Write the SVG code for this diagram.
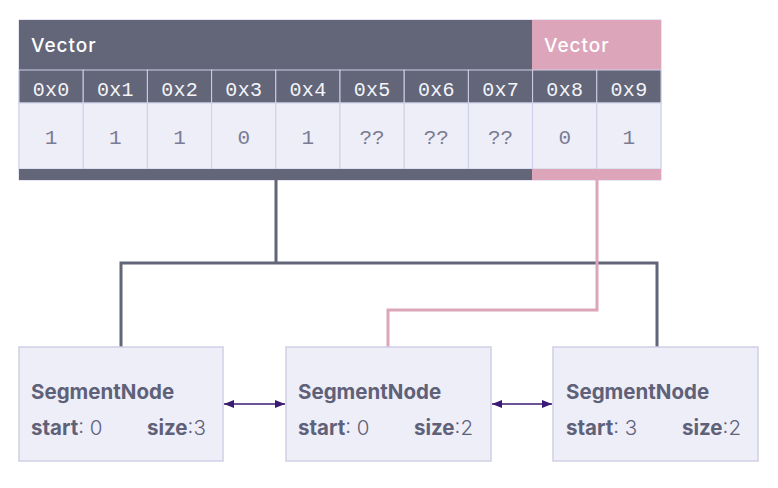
<svg xmlns="http://www.w3.org/2000/svg" width="778" height="488" viewBox="0 0 778 488">
<style>
.hdr{fill:#636679}
.pink{fill:#dca5ba}
.cell{fill:#eeeef8;stroke:#cdd0e6;stroke-width:1}
.idx{fill:#636679;stroke:#cdd0e6;stroke-width:1}
.title{font-family:Inter,"Liberation Sans",sans-serif;font-size:19px;font-weight:500;letter-spacing:1px;fill:#ffffff}
.mono{font-family:"Liberation Mono","DejaVu Sans Mono",monospace;text-anchor:middle}
.it{fill:#f4f4fa;font-size:20px;letter-spacing:0.3px}
.vt{fill:#7a7c94;font-size:21px}
.node{fill:#eeeef8;stroke:#cfd0e6;stroke-width:1.5}
.nt{font-family:Inter,"Liberation Sans",sans-serif;font-size:20.5px;fill:#5f6178}
.b{font-weight:700}
.l{font-weight:300}
.gl{fill:none;stroke:#636679;stroke-width:3}
.pl{fill:none;stroke:#dca5ba;stroke-width:3}
.ar{stroke:#3a1a72;stroke-width:1.5;marker-start:url(#ah);marker-end:url(#ah)}
</style>
<defs>
<marker id="ah" viewBox="0 0 10 10" refX="10" refY="5" markerWidth="10" markerHeight="10" markerUnits="userSpaceOnUse" orient="auto-start-reverse">
<path d="M0,1 L10,5 L0,9 Z" fill="#3a1a72"/>
</marker>
</defs>
<g id="vector">
<rect x="19" y="20" width="642" height="160" fill="#eeeef8" stroke="#cdd0e6"/>
<rect class="hdr" x="19" y="20" width="513" height="50"/>
<rect class="pink" x="532" y="20" width="129" height="50"/>
<text class="title" x="31" y="52">Vector</text>
<text class="title" x="544" y="52">Vector</text>
<g>
<rect class="idx" x="19" y="70" width="64.2" height="33"/>
<rect class="idx" x="83.2" y="70" width="64.2" height="33"/>
<rect class="idx" x="147.4" y="70" width="64.2" height="33"/>
<rect class="idx" x="211.6" y="70" width="64.2" height="33"/>
<rect class="idx" x="275.8" y="70" width="64.2" height="33"/>
<rect class="idx" x="340" y="70" width="64.2" height="33"/>
<rect class="idx" x="404.2" y="70" width="64.2" height="33"/>
<rect class="idx" x="468.4" y="70" width="64.2" height="33"/>
<rect class="idx" x="532.6" y="70" width="64.2" height="33"/>
<rect class="idx" x="596.8" y="70" width="64.2" height="33"/>
<rect class="cell" x="19" y="103" width="64.2" height="66"/>
<rect class="cell" x="83.2" y="103" width="64.2" height="66"/>
<rect class="cell" x="147.4" y="103" width="64.2" height="66"/>
<rect class="cell" x="211.6" y="103" width="64.2" height="66"/>
<rect class="cell" x="275.8" y="103" width="64.2" height="66"/>
<rect class="cell" x="340" y="103" width="64.2" height="66"/>
<rect class="cell" x="404.2" y="103" width="64.2" height="66"/>
<rect class="cell" x="468.4" y="103" width="64.2" height="66"/>
<rect class="cell" x="532.6" y="103" width="64.2" height="66"/>
<rect class="cell" x="596.8" y="103" width="64.2" height="66"/>
</g>
<g class="mono it">
<text x="51.2" y="96">0x0</text>
<text x="115.4" y="96">0x1</text>
<text x="179.6" y="96">0x2</text>
<text x="243.8" y="96">0x3</text>
<text x="308" y="96">0x4</text>
<text x="372.2" y="96">0x5</text>
<text x="436.4" y="96">0x6</text>
<text x="500.6" y="96">0x7</text>
<text x="564.8" y="96">0x8</text>
<text x="629" y="96">0x9</text>
</g>
<g class="mono vt">
<text x="51" y="144">1</text>
<text x="115.3" y="144">1</text>
<text x="179.5" y="144">1</text>
<text x="243.7" y="144">0</text>
<text x="307.9" y="144">1</text>
<text x="372.1" y="144">??</text>
<text x="436.3" y="144">??</text>
<text x="500.5" y="144">??</text>
<text x="564.7" y="144">0</text>
<text x="628.9" y="144">1</text>
</g>
<rect class="hdr" x="19" y="169" width="513" height="11"/>
<rect class="pink" x="532" y="169" width="129" height="11"/>
</g>
<g id="connectors">
<path class="gl" d="M276,180 V263 M121,348 V263 H657 V348"/>
<path class="pl" d="M597,180 V310 H388 V348"/>
<line class="ar" x1="224" y1="404" x2="285" y2="404"/>
<line class="ar" x1="492" y1="404" x2="552" y2="404"/>
</g>
<g id="node1">
<rect class="node" x="19" y="347" width="204" height="114"/>
<text class="nt b" x="31" y="399">SegmentNode</text>
<text class="nt" x="31" y="435"><tspan class="b">start</tspan><tspan class="l">: 0</tspan></text>
<text class="nt" x="147" y="435"><tspan class="b">size</tspan><tspan class="l">:3</tspan></text>
</g>
<g id="node2">
<rect class="node" x="286" y="347" width="205" height="114"/>
<text class="nt b" x="298" y="399">SegmentNode</text>
<text class="nt" x="298" y="435"><tspan class="b">start</tspan><tspan class="l">: 0</tspan></text>
<text class="nt" x="414" y="435"><tspan class="b">size</tspan><tspan class="l">:2</tspan></text>
</g>
<g id="node3">
<rect class="node" x="553" y="347" width="205" height="114"/>
<text class="nt b" x="566" y="399">SegmentNode</text>
<text class="nt" x="566" y="435"><tspan class="b">start</tspan><tspan class="l">: 3</tspan></text>
<text class="nt" x="682" y="435"><tspan class="b">size</tspan><tspan class="l">:2</tspan></text>
</g>
</svg>
